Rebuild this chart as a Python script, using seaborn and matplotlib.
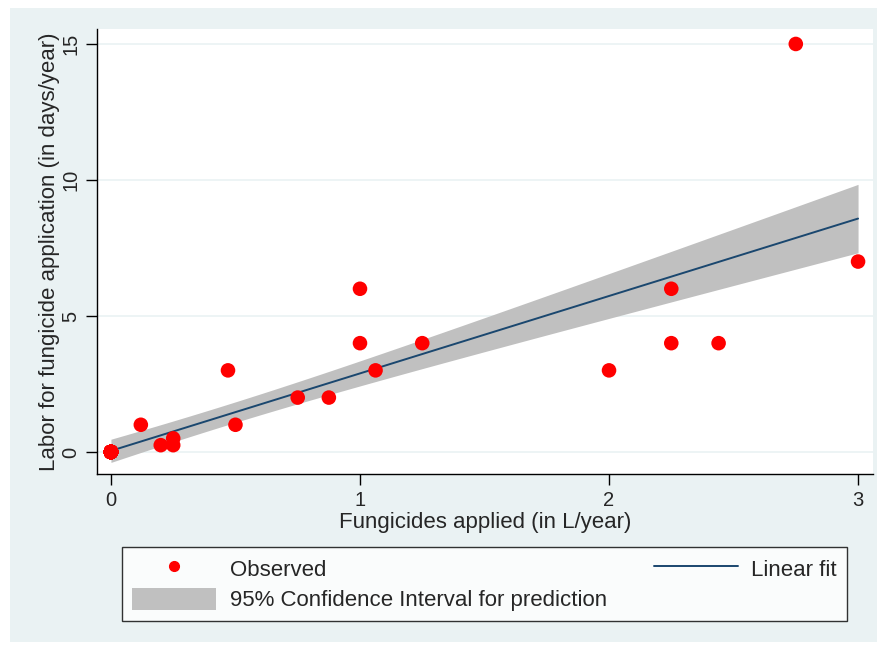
import matplotlib
matplotlib.use("Agg")
import matplotlib.pyplot as plt
from matplotlib.lines import Line2D
from matplotlib.patches import Patch, Rectangle
import pandas as pd
import seaborn as sns
import numpy as np

sns.set_style("white")
plt.rcParams['font.family'] = ['Liberation Sans', 'DejaVu Sans']

# observations (many farms sit on top of each other at the origin)
n_origin = 34
fungicide = [0.0] * n_origin + [0.12, 0.2, 0.25, 0.25, 0.47, 0.5, 0.75, 0.875, 1.0, 1.0,
                                1.0625, 1.25, 2.0, 2.25, 2.25, 2.44, 2.75, 3.0]
labor = [0.0] * n_origin + [1, 0.25, 0.25, 0.5, 3, 1, 2, 2, 6, 4,
                            3, 4, 3, 6, 4, 4, 15, 7]
x_ticks = [0, 1, 2, 3]
y_ticks = [0, 5, 10, 15]

df = pd.DataFrame({"fung": fungicide, "labor": labor})

# linear fit with 95% CI of the prediction (stdp)
x = df["fung"].to_numpy()
y = df["labor"].to_numpy()
n = len(x)
b, a = np.polyfit(x, y, 1)
resid = y - (a + b * x)
s = np.sqrt((resid ** 2).sum() / (n - 2))
sxx = ((x - x.mean()) ** 2).sum()
try:
    from scipy import stats
    tval = stats.t.ppf(0.975, n - 2)
except ImportError:
    tval = 2.01
grid = np.linspace(x.min(), x.max(), 100)
fit = a + b * grid
se = s * np.sqrt(1 / n + (grid - x.mean()) ** 2 / sxx)
fit_df = pd.DataFrame({"fung": grid, "fit": fit, "lo": fit - tval * se, "hi": fit + tval * se})

W, H = 882, 645
fig = plt.figure(figsize=(W / 100, H / 100), dpi=100, facecolor="white")
bg = "#eaf2f3"
fig.patches.append(Rectangle((10 / W, 3 / H), 867 / W, 634 / H, transform=fig.transFigure,
                             facecolor=bg, edgecolor="none", zorder=-1))

ax = fig.add_axes([97 / W, (H - 474) / H, (873 - 97) / W, (474 - 29) / H])
ax.set_facecolor("white")

ax.fill_between(fit_df["fung"], fit_df["lo"], fit_df["hi"], color="#c0c0c0", lw=0, zorder=2)
sns.lineplot(data=fit_df, x="fung", y="fit", ax=ax, color="#1a476f", lw=1.4, zorder=3)
sns.scatterplot(data=df, x="fung", y="labor", ax=ax, color="#ff0000", s=110,
                edgecolor="none", zorder=4)

ax.set_xlim(-0.056, 3.06)
ax.set_ylim(-0.81, 15.55)
ax.set_xticks(x_ticks)
ax.set_yticks(y_ticks)
ax.set_xticklabels([str(t) for t in x_ticks], fontsize=14.5)
ax.set_yticklabels([str(t) for t in y_ticks], fontsize=14.5, rotation=90, va="center")
ax.yaxis.grid(True, color=bg, lw=1.2)
ax.set_axisbelow(True)
for side in ["top", "right"]:
    ax.spines[side].set_visible(False)
for side in ["left", "bottom"]:
    ax.spines[side].set_color("black")
    ax.spines[side].set_linewidth(1.0)
ax.tick_params(axis="both", direction="out", length=8, width=1, color="black", pad=4,
               left=True, bottom=True)
ax.set_xlabel("Fungicides applied (in L/year)", fontsize=16, labelpad=2)
ax.set_ylabel("Labor for fungicide application (in days/year)", fontsize=16, labelpad=1)

handles = [
    Line2D([], [], marker="o", color="#ff0000", ls="none", markersize=7),
    Patch(facecolor="#c0c0c0", edgecolor="none"),
    Line2D([], [], color="#1a476f", lw=1.4),
]
labels = ["Observed", "95% Confidence Interval for prediction", "Linear fit"]
leg = fig.legend(handles, labels, ncol=2, mode="expand", loc="upper left",
                 bbox_to_anchor=(122 / W, (H - 620) / H, (847 - 122) / W, 73 / H),
                 fontsize=16, frameon=True, fancybox=False, edgecolor="black",
                 handlelength=3.8, handleheight=1.2, handletextpad=0.6,
                 labelspacing=0.3, borderpad=0.45, borderaxespad=0)
leg.get_frame().set_linewidth(1.0)

fig.savefig("out.png", dpi=100, facecolor="white")
